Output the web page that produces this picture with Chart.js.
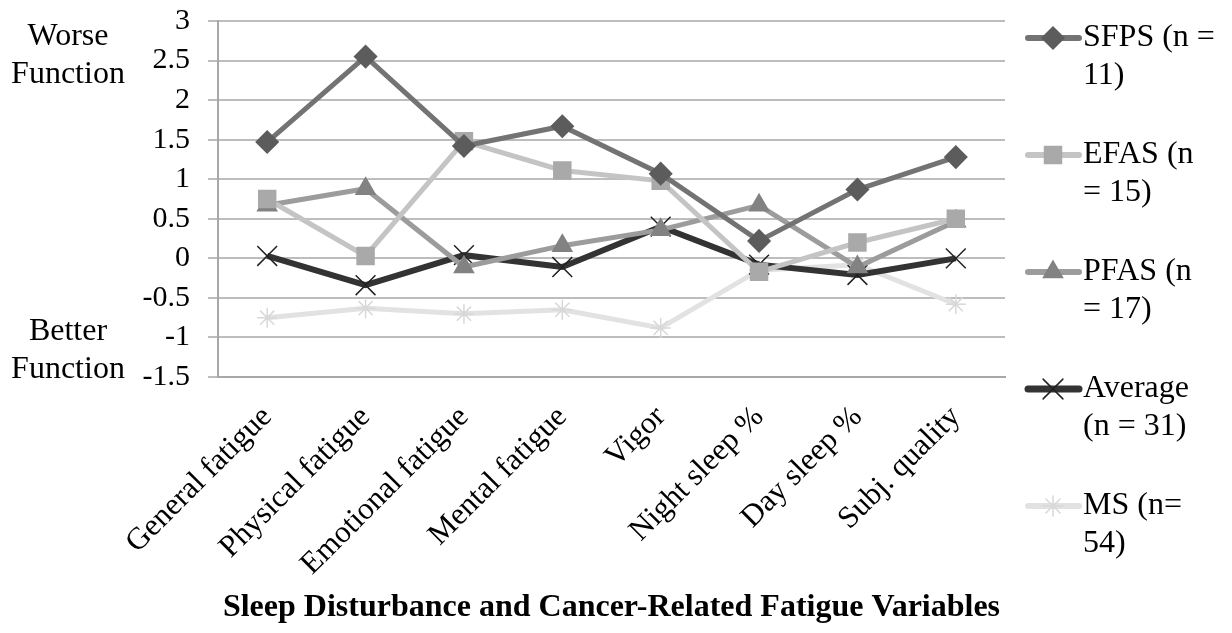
<!DOCTYPE html>
<html>
<head>
<meta charset="utf-8">
<script src="https://cdn.jsdelivr.net/npm/chart.js@4/dist/chart.umd.min.js"></script>
<style>
  html, body { margin: 0; padding: 0; background: #fff; }
  #wrap { width: 1232px; height: 633px; }
</style>
</head>
<body>
<div id="wrap"><canvas id="chart" width="1232" height="633"></canvas></div>
<script>
const categories = ['General fatigue', 'Physical fatigue', 'Emotional fatigue', 'Mental fatigue',
  'Vigor', 'Night sleep %', 'Day sleep %', 'Subj. quality'];

const sfps    = [1.47, 2.55, 1.42, 1.67, 1.07, 0.22, 0.87, 1.28];
const efas    = [0.75, 0.03, 1.48, 1.11, 0.98, -0.17, 0.20, 0.50];
const pfas    = [0.67, 0.88, -0.11, 0.16, 0.36, 0.67, -0.11, 0.47];
const average = [0.03, -0.34, 0.04, -0.11, 0.40, -0.08, -0.21, 0.00];
const ms      = [-0.75, -0.63, -0.70, -0.65, -0.88, -0.15, -0.08, -0.58];

const legendLines = [
  ['SFPS (n =', '11)'],
  ['EFAS (n', '= 15)'],
  ['PFAS (n', '= 17)'],
  ['Average', '(n = 31)'],
  ['MS (n=', '54)']
];

const yTitleTop = ['Worse', 'Function'];
const yTitleBottom = ['Better', 'Function'];
const xTitle = 'Sleep Disturbance and Cancer-Related Fatigue Variables';

const serif = '"Liberation Serif", "DejaVu Serif", serif';

function series(label, data, line, marker, style, radius, width) {
  return {
    label: label,
    data: data,
    borderColor: line,
    backgroundColor: marker,
    borderWidth: width,
    pointStyle: style,
    pointRadius: radius,
    pointHoverRadius: radius,
    pointBackgroundColor: marker,
    pointBorderColor: marker,
    pointBorderWidth: 1.5,
    tension: 0
  };
}

const datasets = [
  series('SFPS (n = 11)', sfps, '#737373', '#5c5c5c', 'rectRot', 11, 5),
  series('EFAS (n = 15)', efas, '#c4c4c4', '#a9a9a9', 'rect', 12, 5),
  series('PFAS (n = 17)', pfas, '#9c9c9c', '#828282', 'triangle', 11, 5),
  series('Average (n = 31)', average, '#333333', '#222222', 'crossRot', 14, 6),
  series('MS (n= 54)', ms, '#e2e2e2', '#d8d8d8', 'star', 10, 5)
];

// side labels + wrapped legend drawn on the canvas
const extras = {
  id: 'extras',
  afterDraw(chart) {
    const ctx = chart.ctx;
    ctx.save();
    ctx.fillStyle = '#000';
    ctx.font = '32px ' + serif;
    ctx.textAlign = 'center';
    ctx.textBaseline = 'middle';
    yTitleTop.forEach((t, i) => ctx.fillText(t, 68, 37 + i * 38));
    yTitleBottom.forEach((t, i) => ctx.fillText(t, 68, 332 + i * 38));

    ctx.textAlign = 'left';
    chart.data.datasets.forEach((ds, i) => {
      const y = 38 + i * 117;
      ctx.strokeStyle = ds.borderColor;
      ctx.lineWidth = ds.borderWidth + 1;
      ctx.lineCap = 'round';
      ctx.beginPath();
      ctx.moveTo(1028, y);
      ctx.lineTo(1079, y);
      ctx.stroke();
      ctx.fillStyle = ds.pointBackgroundColor;
      ctx.strokeStyle = ds.pointBorderColor;
      ctx.lineWidth = ds.pointBorderWidth;
      Chart.helpers.drawPoint(ctx, {
        pointStyle: ds.pointStyle,
        radius: ds.pointRadius,
        rotation: 0,
        borderWidth: ds.pointBorderWidth
      }, 1053, y);
      ctx.fillStyle = '#000';
      legendLines[i].forEach((t, j) => ctx.fillText(t, 1083, y + j * 38));
    });
    ctx.restore();
  }
};

new Chart(document.getElementById('chart'), {
  type: 'line',
  data: { labels: categories, datasets: datasets },
  options: {
    responsive: false,
    animation: false,
    layout: { padding: { left: 128, right: 227, top: 21, bottom: 0 } },
    plugins: {
      legend: { display: false },
      tooltip: { enabled: false }
    },
    scales: {
      x: {
        offset: true,
        afterFit(scale) {
          scale.height = 256;
          scale.paddingLeft = 0;
          scale.paddingRight = 0;
        },
        grid: { display: false },
        border: { color: '#a8a8a8', width: 2 },
        ticks: {
          color: '#000',
          padding: 14,
          font: { family: serif, size: 31 },
          minRotation: 45,
          maxRotation: 45,
          autoSkip: false
        },
        title: {
          display: true,
          text: xTitle,
          color: '#000',
          font: { family: serif, size: 32, weight: 'bold' },
          padding: { top: 0, bottom: 6 }
        }
      },
      y: {
        min: -1.5,
        max: 3,
        afterFit(scale) {
          scale.width = 90;
          scale.paddingTop = 0;
          scale.paddingBottom = 0;
        },
        grid: { color: '#bdbdbd', lineWidth: 2, tickLength: 10, drawTicks: true },
        border: { color: '#a8a8a8', width: 2 },
        ticks: {
          stepSize: 0.5,
          autoSkip: false,
          color: '#000',
          padding: 18,
          font: { family: serif, size: 30 },
          callback: v => String(Math.round(v * 10) / 10)
        }
      }
    }
  },
  plugins: [extras]
});
</script>
</body>
</html>
